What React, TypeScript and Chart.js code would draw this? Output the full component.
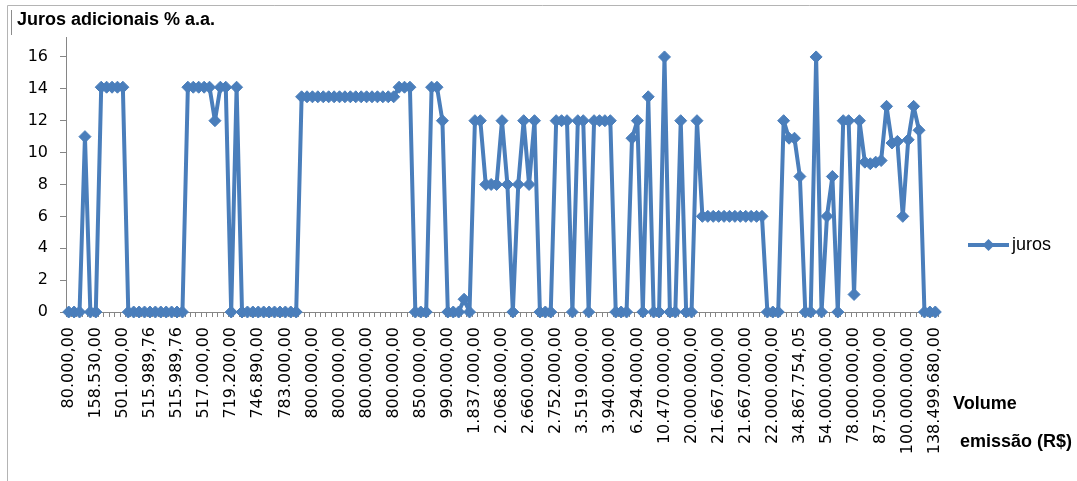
import React, { useEffect, useRef } from 'react';
import { Chart, registerables } from 'chart.js';

Chart.register(...registerables);

// Tick labels shown on the category axis (one every LABEL_STEP categories)
const tickLabels: string[] = [
  '80.000,00', '158.530,00', '501.000,00', '515.989,76', '515.989,76', '517.000,00',
  '719.200,00', '746.890,00', '783.000,00', '800.000,00', '800.000,00', '800.000,00',
  '800.000,00', '850.000,00', '990.000,00', '1.837.000,00', '2.068.000,00', '2.660.000,00',
  '2.752.000,00', '3.519.000,00', '3.940.000,00', '6.294.000,00', '10.470.000,00',
  '20.000.000,00', '21.667.000,00', '21.667.000,00', '22.000.000,00', '34.867.754,05',
  '54.000.000,00', '78.000.000,00', '87.500.000,00', '100.000.000,00', '138.499.680,00',
];
const LABEL_STEP = 5;

// Series "juros" (% a.a.), one value per emission
const juros: number[] = [
  0, 0, 0, 11, 0, 0, 14.1, 14.1, 14.1, 14.1,
  14.1, 0, 0, 0, 0, 0, 0, 0, 0, 0,
  0, 0, 14.1, 14.1, 14.1, 14.1, 14.1, 12, 14.1, 14.1,
  0, 14.1, 0, 0, 0, 0, 0, 0, 0, 0,
  0, 0, 0, 13.5, 13.5, 13.5, 13.5, 13.5, 13.5, 13.5,
  13.5, 13.5, 13.5, 13.5, 13.5, 13.5, 13.5, 13.5, 13.5, 13.5,
  13.5, 14.1, 14.1, 14.1, 0, 0, 0, 14.1, 14.1, 12,
  0, 0, 0, 0.8, 0, 12, 12, 8, 8, 8,
  12, 8, 0, 8, 12, 8, 12, 0, 0, 0,
  12, 12, 12, 0, 12, 12, 0, 12, 12, 12,
  12, 0, 0, 0, 10.9, 12, 0, 13.5, 0, 0,
  16, 0, 0, 12, 0, 0, 12, 6, 6, 6,
  6, 6, 6, 6, 6, 6, 6, 6, 6, 0,
  0, 0, 12, 10.9, 10.9, 8.5, 0, 0, 16, 0,
  6, 8.5, 0, 12, 12, 1.1, 12, 9.4, 9.3, 9.4,
  9.5, 12.9, 10.6, 10.7, 6, 10.8, 12.9, 11.4, 0, 0,
  0,
];

const yTicks: number[] = [0, 2, 4, 6, 8, 10, 12, 14, 16];
const Y_MAX = 17.25;

const titleText = 'Juros adicionais % a.a.';
const xTitleLine1 = 'Volume';
const xTitleLine2 = 'emissão (R$)';
const seriesName = 'juros';

const BLUE = '#4A7EBB';
const AXIS = '#868686';

const categories: string[] = juros.map((_, i) =>
  i % LABEL_STEP === 0 ? tickLabels[i / LABEL_STEP] ?? '' : ''
);

const decorations = {
  id: 'decorations',
  afterDraw(chart: any) {
    const ctx: CanvasRenderingContext2D = chart.ctx;
    ctx.save();
    // outer frame
    ctx.strokeStyle = '#b4b4b4';
    ctx.lineWidth = 1;
    ctx.beginPath();
    ctx.moveTo(7.5, 481);
    ctx.lineTo(7.5, 5.5);
    ctx.lineTo(1077, 5.5);
    ctx.stroke();
    ctx.strokeStyle = '#8c8c8c';
    ctx.beginPath();
    ctx.moveTo(11.5, 10);
    ctx.lineTo(11.5, 35);
    ctx.stroke();

    // title
    ctx.fillStyle = '#000';
    ctx.textAlign = 'left';
    ctx.textBaseline = 'alphabetic';
    ctx.font = 'bold 18px "Liberation Sans", Arial, sans-serif';
    ctx.fillText(titleText, 17, 25);

    // axis title (two lines)
    ctx.fillText(xTitleLine1, 953, 409);
    ctx.fillText(xTitleLine2, 960, 447);

    // legend
    const ly = 245;
    ctx.strokeStyle = BLUE;
    ctx.lineWidth = 4;
    ctx.beginPath();
    ctx.moveTo(968, ly);
    ctx.lineTo(1009, ly);
    ctx.stroke();
    ctx.fillStyle = BLUE;
    const r = 6;
    ctx.beginPath();
    ctx.moveTo(988.5, ly - r);
    ctx.lineTo(988.5 + r, ly);
    ctx.lineTo(988.5, ly + r);
    ctx.lineTo(988.5 - r, ly);
    ctx.closePath();
    ctx.fill();
    ctx.fillStyle = '#000';
    ctx.font = '18px "Liberation Sans", Arial, sans-serif';
    ctx.textBaseline = 'middle';
    ctx.fillText(seriesName, 1012, ly);
    ctx.restore();
  },
};

export default function App() {
  const canvasRef = useRef<HTMLCanvasElement | null>(null);

  useEffect(() => {
    if (!canvasRef.current) return;
    const chart = new Chart(canvasRef.current, {
      type: 'line',
      data: {
        labels: categories,
        datasets: [
          {
            label: seriesName,
            data: juros,
            borderColor: BLUE,
            backgroundColor: BLUE,
            borderWidth: 4,
            borderJoinStyle: 'round',
            borderCapStyle: 'round',
            pointStyle: 'rectRot',
            pointRadius: 6,
            pointBorderWidth: 1,
            pointBackgroundColor: BLUE,
            pointBorderColor: BLUE,
            tension: 0,
            clip: false as any,
          },
        ],
      },
      options: {
        responsive: false,
        animation: false,
        devicePixelRatio: 1,
        layout: { padding: { top: 37, right: 139, left: 0, bottom: 0 } },
        plugins: {
          legend: { display: false },
          tooltip: { enabled: false },
          title: { display: false },
        },
        scales: {
          x: {
            type: 'category',
            offset: true,
            grid: {
              display: true,
              drawOnChartArea: false,
              drawTicks: true,
              tickLength: 5,
              color: AXIS,
              offset: true,
            },
            border: { display: true, color: AXIS, width: 1 },
            ticks: {
              autoSkip: false,
              minRotation: 90,
              maxRotation: 90,
              padding: 10,
              color: '#000',
              font: { family: '"DejaVu Sans", Verdana, sans-serif', size: 16 },
            },
            afterFit: (s: any) => {
              s.height = 169;
            },
          },
          y: {
            min: 0,
            max: Y_MAX,
            afterBuildTicks: (s: any) => {
              s.ticks = yTicks.map((v) => ({ value: v }));
            },
            grid: { drawOnChartArea: false, tickLength: 6, color: AXIS },
            border: { display: true, color: AXIS, width: 1 },
            ticks: {
              padding: 12,
              color: '#000',
              font: { family: '"DejaVu Sans", Verdana, sans-serif', size: 16 },
            },
            afterFit: (s: any) => {
              s.width = 66;
            },
          },
        },
      },
      plugins: [decorations],
    });
    return () => chart.destroy();
  }, []);

  return (
    <div style={{ position: 'fixed', left: 0, top: 0, width: 1077, height: 481, background: '#fff' }}>
      <canvas ref={canvasRef} width={1077} height={481} style={{ display: 'block' }} />
    </div>
  );
}
